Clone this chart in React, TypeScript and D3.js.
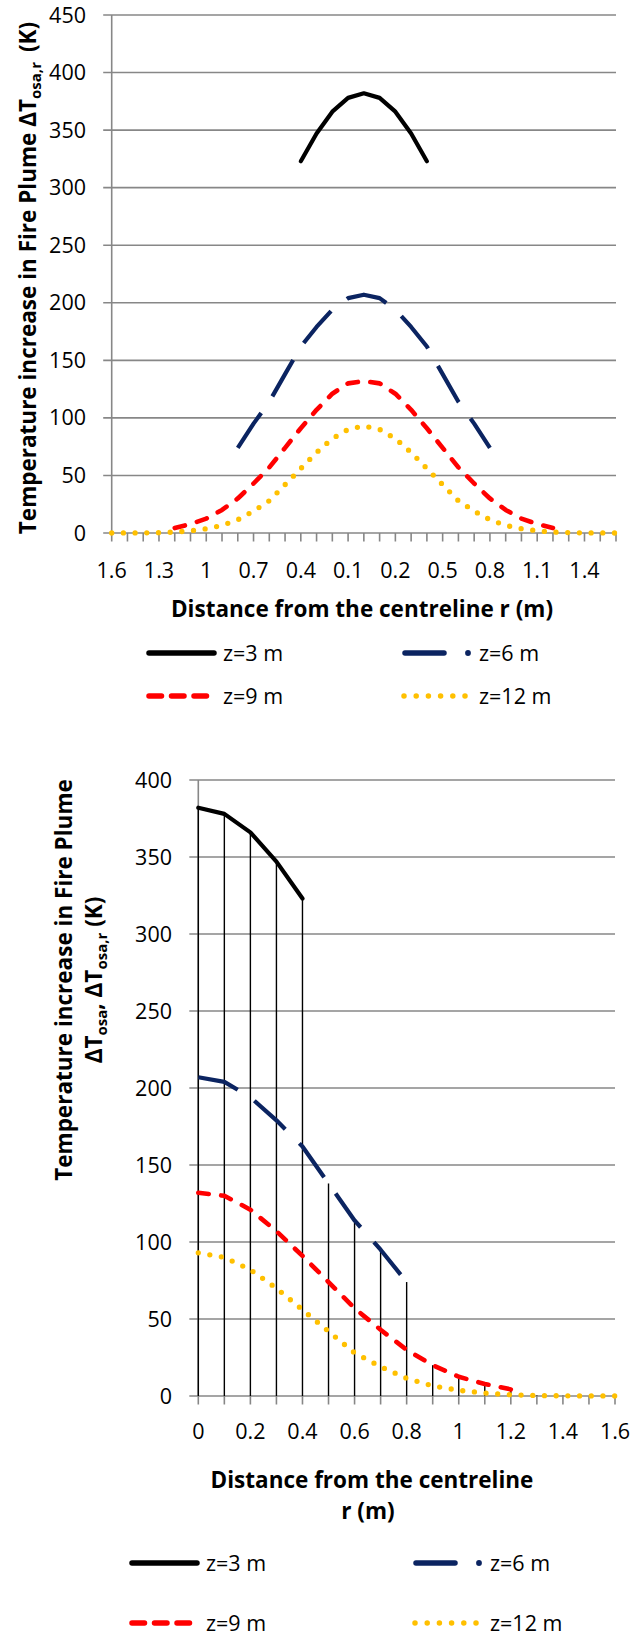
import React from 'react';
import * as d3 from 'd3';

// ---- data ----
const radii = [0, 0.1, 0.2, 0.3, 0.4, 0.5, 0.6, 0.7, 0.8, 0.9, 1, 1.1, 1.2, 1.3, 1.4, 1.5, 1.6];
const z3 = [382, 378, 366, 347, 323];
const z6 = [207, 204, 194, 179, 162, 138, 114, 95, 74];
const z9 = [132, 130, 121, 107, 91, 74, 57, 43, 30, 20, 12.5, 7.8, 4.3];
const z12 = [93, 90, 82, 70, 56, 42, 28, 19, 11.5, 6.6, 3.7, 1.9, 0.8, 0.3, 0.1, 0.05, 0];
const seriesNames = ['z=3 m', 'z=6 m', 'z=9 m', 'z=12 m'];
const topYTicks = [0, 50, 100, 150, 200, 250, 300, 350, 400, 450];
const botYTicks = [0, 50, 100, 150, 200, 250, 300, 350, 400];
const botXLabels = ['0', '0.2', '0.4', '0.6', '0.8', '1', '1.2', '1.4', '1.6'];

const FONT = "'Open Sans', 'DejaVu Sans', sans-serif";
const GRID = '#878787';
const TICK_FS = 21.5;
const TITLE_FS = 22.5;

type Style = { stroke: string; width: number; dash?: string; cap: 'round' | 'butt' };
const styles: Style[] = [
  { stroke: '#000000', width: 4.2, cap: 'round' },
  { stroke: '#0b2461', width: 4.2, dash: '42 20', cap: 'butt' },
  { stroke: '#ff0000', width: 4.6, dash: '10.5 12.5', cap: 'round' },
  { stroke: '#ffc000', width: 5.3, dash: '0 11.7', cap: 'round' },
];
const allSeries = [z3, z6, z9, z12];

// mirrored categories for the top chart
const topCats = [...radii.slice(1).reverse(), ...radii];
const centerIdx = radii.length - 1;

function mirror(s: number[]): [number, number][] {
  const pts: [number, number][] = [];
  for (let k = s.length - 1; k >= 1; k--) pts.push([centerIdx - k, s[k]]);
  for (let k = 0; k < s.length; k++) pts.push([centerIdx + k, s[k]]);
  return pts;
}

function Legend({ x1, x2, y1, y2 }: { x1: number; x2: number; y1: number; y2: number }) {
  const t1 = x1 + 77;
  const t2 = x2 + 77;
  const lw = 5.5;
  return (
    <g fontFamily={FONT} fontSize={TICK_FS} fill="#000">
      {/* z=3 */}
      <line x1={x1 + 3} x2={x1 + 68} y1={y1} y2={y1} stroke={styles[0].stroke} strokeWidth={lw} strokeLinecap="round" />
      <text x={t1} y={y1 + 7.5}>{seriesNames[0]}</text>
      {/* z=6 */}
      <line x1={x2 + 3} x2={x2 + 42} y1={y1} y2={y1} stroke={styles[1].stroke} strokeWidth={lw} strokeLinecap="round" />
      <circle cx={x2 + 66} cy={y1} r={2.9} fill={styles[1].stroke} />
      <text x={t2} y={y1 + 7.5}>{seriesNames[1]}</text>
      {/* z=9 */}
      <line x1={x1 + 3} x2={x1 + 62} y1={y2} y2={y2} stroke={styles[2].stroke} strokeWidth={lw} strokeLinecap="round" strokeDasharray="12.5 10" />
      <text x={t1} y={y2 + 7.5}>{seriesNames[2]}</text>
      {/* z=12 */}
      <line x1={x2 + 2} x2={x2 + 63} y1={y2} y2={y2} stroke={styles[3].stroke} strokeWidth={lw} strokeLinecap="round" strokeDasharray="0 12.2" />
      <text x={t2} y={y2 + 7.5}>{seriesNames[3]}</text>
    </g>
  );
}

export default function App() {
  // ---------- top chart ----------
  const tL = 111.7, tR = 616, tT = 15, tB = 533;
  const xTop = d3.scaleLinear().domain([0, topCats.length - 1]).range([tL, tR]);
  const yTop = d3.scaleLinear().domain([0, 450]).range([tB, tT]);
  const lineTop = d3.line<[number, number]>().x(d => xTop(d[0])).y(d => yTop(d[1]));

  // ---------- bottom chart ----------
  const bL = 198.3, bR = 615, bT = 780, bB = 1396;
  const xBot = d3.scaleLinear().domain([0, 1.6]).range([bL, bR]);
  const yBot = d3.scaleLinear().domain([0, 400]).range([bB, bT]);
  const lineBot = d3.line<number>().x((_, i) => xBot(radii[i])).y(d => yBot(d));

  const dropTops = radii.map((_, i) => {
    const vals = allSeries.filter(s => i < s.length).map(s => s[i]);
    return Math.max(...vals);
  });

  return (
    <svg width={644} height={1636} style={{ position: 'absolute', left: 0, top: 0, display: 'block', background: '#fff' }}>
      <rect x={0} y={0} width={644} height={1636} fill="#fff" />

      {/* ===== TOP CHART ===== */}
      <g>
        {topYTicks.map(v => (
          <line key={'tg' + v} x1={tL - 8.5} x2={tR} y1={yTop(v)} y2={yTop(v)} stroke={GRID} strokeWidth={1.6} />
        ))}
        <line x1={tL} x2={tL} y1={tT} y2={tB} stroke={GRID} strokeWidth={1.6} />
        {topCats.map((_, i) => (
          <line key={'tt' + i} x1={xTop(i)} x2={xTop(i)} y1={tB} y2={tB + 8.5} stroke={GRID} strokeWidth={1.6} />
        ))}
        <g fontFamily={FONT} fontSize={TICK_FS} fill="#000">
          {topYTicks.map(v => (
            <text key={'tl' + v} x={86} y={yTop(v) + 7.6} textAnchor="end">{v}</text>
          ))}
          {topCats.map((c, i) => i % 3 === 0 ? (
            <text key={'tx' + i} x={xTop(i)} y={578} textAnchor="middle">{String(c)}</text>
          ) : null)}
        </g>
        {allSeries.map((s, si) => (
          <path key={'ts' + si} d={lineTop(mirror(s)) || ''} fill="none" stroke={styles[si].stroke}
            strokeWidth={styles[si].width} strokeDasharray={styles[si].dash} strokeLinecap={styles[si].cap} strokeLinejoin="round" />
        ))}
        <text transform="translate(36,278) rotate(-90)" textAnchor="middle" fontFamily={FONT} fontWeight="bold" fontSize={TITLE_FS} fill="#000">
          Temperature increase in Fire Plume ΔT<tspan fontSize={15} dy={5}>osa,r</tspan><tspan dy={-5} dx={10}>(K)</tspan>
        </text>
        <text x={362} y={616.5} textAnchor="middle" fontFamily={FONT} fontWeight="bold" fontSize={TITLE_FS} fill="#000">
          Distance from the centreline r (m)
        </text>
        <Legend x1={146} x2={402} y1={653} y2={696} />
      </g>

      {/* ===== BOTTOM CHART ===== */}
      <g>
        {botYTicks.map(v => (
          <line key={'bg' + v} x1={bL - 9} x2={bR} y1={yBot(v)} y2={yBot(v)} stroke={GRID} strokeWidth={1.6} />
        ))}
        <line x1={bL} x2={bL} y1={bT} y2={bB} stroke={GRID} strokeWidth={1.6} />
        {radii.map(r => (
          <line key={'bt' + r} x1={xBot(r)} x2={xBot(r)} y1={bB} y2={bB + 8.5} stroke={GRID} strokeWidth={1.6} />
        ))}
        {radii.map((r, i) => (
          <line key={'dl' + r} x1={xBot(r)} x2={xBot(r)} y1={yBot(dropTops[i])} y2={bB} stroke="#000" strokeWidth={1.4} />
        ))}
        <g fontFamily={FONT} fontSize={TICK_FS} fill="#000">
          {botYTicks.map(v => (
            <text key={'bl' + v} x={172} y={yBot(v) + 7.6} textAnchor="end">{v}</text>
          ))}
          {botXLabels.map(l => (
            <text key={'bx' + l} x={xBot(+l)} y={1438.5} textAnchor="middle">{l}</text>
          ))}
        </g>
        {allSeries.map((s, si) => (
          <path key={'bs' + si} d={lineBot(s) || ''} fill="none" stroke={styles[si].stroke}
            strokeWidth={styles[si].width} strokeDasharray={styles[si].dash} strokeLinecap={styles[si].cap} strokeLinejoin="round" />
        ))}
        <g fontFamily={FONT} fontWeight="bold" fontSize={TITLE_FS} fill="#000">
          <text transform="translate(71.5,980) rotate(-90)" textAnchor="middle">Temperature increase in Fire Plume</text>
          <text transform="translate(102,980) rotate(-90)" textAnchor="middle">
            ΔT<tspan fontSize={15} dy={5}>osa</tspan><tspan dy={-5}>, ΔT</tspan><tspan fontSize={15} dy={5}>osa,r</tspan><tspan dy={-5}> (K)</tspan>
          </text>
          <text x={372} y={1487.5} textAnchor="middle">Distance from the centreline</text>
          <text x={368} y={1519} textAnchor="middle">r (m)</text>
        </g>
        <Legend x1={129} x2={413} y1={1563} y2={1623} />
      </g>
    </svg>
  );
}
